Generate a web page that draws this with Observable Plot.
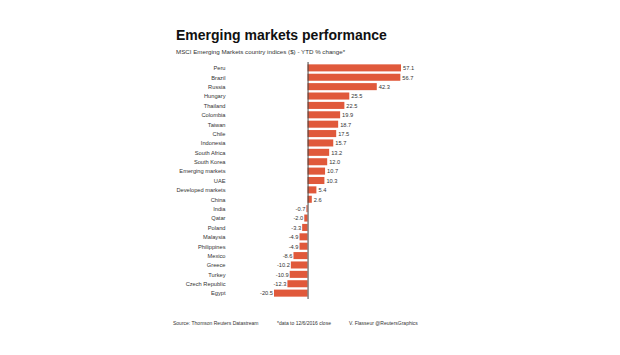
<!DOCTYPE html>
<html>
<head>
<meta charset="utf-8">
<script src="https://cdn.jsdelivr.net/npm/d3@7"></script>
<script src="https://cdn.jsdelivr.net/npm/@observablehq/plot@0.6"></script>
<style>
  html, body { margin: 0; padding: 0; background: #fff; overflow: hidden; }
  #wrap { position: relative; width: 620px; height: 355px; background: #fff; font-family: "Liberation Sans", Arial, sans-serif; }
  .t { position: absolute; white-space: nowrap; color: #222; }
  #title { left: 176px; top: 27px; font-size: 14px; font-weight: bold; color: #111; }
  #sub { left: 176px; top: 48px; font-size: 6.2px; color: #333; }
  .foot { top: 320px; font-size: 5px; color: #333; }
  #chart { position: absolute; left: 0; top: 0; }
</style>
</head>
<body>
<div id="wrap">
  <div class="t" id="title">Emerging markets performance</div>
  <div class="t" id="sub">MSCI Emerging Markets country indices ($) - YTD % change*</div>
  <div class="t foot" style="left:173px">Source: Thomson Reuters Datastream</div>
  <div class="t foot" style="left:277px">*data to 12/6/2016 close</div>
  <div class="t foot" style="left:349px">V. Flasseur @ReutersGraphics</div>
  <div id="chart"></div>
</div>
<script>
const countries = ["Peru","Brazil","Russia","Hungary","Thailand","Colombia","Taiwan","Chile","Indonesia","South Africa","South Korea","Emerging markets","UAE","Developed markets","China","India","Qatar","Poland","Malaysia","Philippines","Mexico","Greece","Turkey","Czech Republic","Egypt"];
const values = [57.1,56.7,42.3,25.5,22.5,19.9,18.7,17.5,15.7,13.2,12.0,10.7,10.3,5.4,2.6,-0.7,-2.0,-3.3,-4.9,-4.9,-8.6,-10.2,-10.9,-12.3,-20.5];

const data = countries.map((c, i) => ({name: c, value: values[i]}));

const chart = Plot.plot({
  width: 620,
  height: 355,
  marginLeft: 274,
  marginRight: 219,
  marginTop: 62,
  marginBottom: 56,
  style: {fontFamily: "Liberation Sans, Arial, sans-serif", fontSize: "5.7px", background: "transparent", color: "#333"},
  x: {domain: [-20.5, 57.1], axis: null},
  y: {domain: countries, padding: 0.25, round: false, label: null},
  marks: [
    Plot.barX(data, {x: "value", y: "name", fill: "#e0593b"}),
    Plot.ruleX([0], {stroke: "#444", strokeWidth: 1}),
    Plot.text(data.filter(d => d.value >= 0), {x: "value", y: "name", text: d => d.value.toFixed(1), textAnchor: "start", dx: 1.5, fill: "#333", fontSize: 5.7}),
    Plot.text(data.filter(d => d.value < 0), {x: "value", y: "name", text: d => d.value.toFixed(1), textAnchor: "end", dx: -1.5, fill: "#333", fontSize: 5.7}),
    Plot.axisY({tickSize: 0, tickPadding: 49, label: null, fill: "#333", fontSize: 5.7})
  ]
});
document.getElementById("chart").appendChild(chart);
</script>
</body>
</html>
